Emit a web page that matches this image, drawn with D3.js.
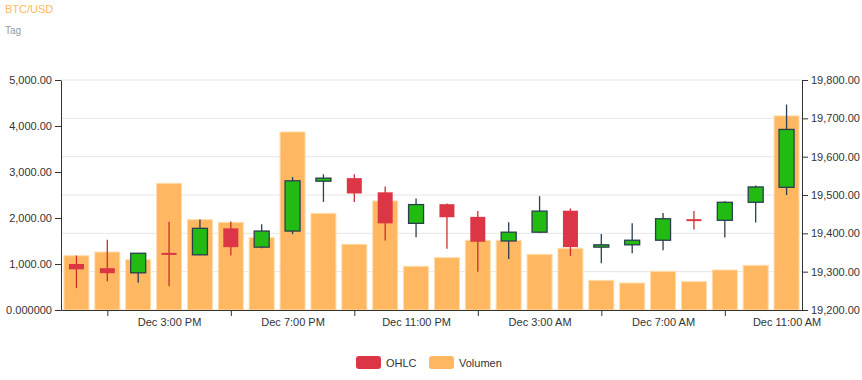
<!DOCTYPE html>
<html>
<head>
<meta charset="utf-8">
<script src="https://cdn.jsdelivr.net/npm/d3@7"></script>
<style>
  body { margin: 0; background: #fff; }
  svg { font-family: "Liberation Sans", Arial, sans-serif; }
  .axis text { fill: #333; font-size: 11px; }
  .axis path, .axis line { stroke: #333; }
</style>
</head>
<body>
<svg id="chart" width="862" height="380"></svg>
<script>
// hourly candles, Dec 1 12:00 PM .. Dec 2 11:00 AM
var hours = ["2020-12-01T12:00", "2020-12-01T13:00", "2020-12-01T14:00", "2020-12-01T15:00",
  "2020-12-01T16:00", "2020-12-01T17:00", "2020-12-01T18:00", "2020-12-01T19:00",
  "2020-12-01T20:00", "2020-12-01T21:00", "2020-12-01T22:00", "2020-12-01T23:00",
  "2020-12-02T00:00", "2020-12-02T01:00", "2020-12-02T02:00", "2020-12-02T03:00",
  "2020-12-02T04:00", "2020-12-02T05:00", "2020-12-02T06:00", "2020-12-02T07:00",
  "2020-12-02T08:00", "2020-12-02T09:00", "2020-12-02T10:00", "2020-12-02T11:00"];
var open  = [19320, 19309, 19297, 19349, 19344, 19413, 19364, 19406, 19536, 19544, 19507, 19426,
  19476, 19443, 19380, 19403, 19459, 19364, 19370, 19382, 19437, 19434, 19481, 19520];
var high  = [19342, 19383, 19348, 19430, 19436, 19431, 19424, 19547, 19554, 19554, 19522, 19491,
  19478, 19458, 19429, 19497, 19465, 19398, 19426, 19453, 19458, 19484, 19525, 19736];
var low   = [19257, 19275, 19271, 19262, 19343, 19342, 19361, 19398, 19482, 19482, 19381, 19390,
  19360, 19300, 19333, 19401, 19341, 19322, 19348, 19356, 19410, 19389, 19428, 19500];
var close = [19306, 19296, 19348, 19345, 19413, 19364, 19406, 19537, 19544, 19504, 19426, 19475,
  19442, 19378, 19403, 19458, 19364, 19370, 19382, 19438, 19434, 19481, 19521, 19671];
var volume = [1180, 1260, 1094, 2754, 1964, 1906, 1572, 3870, 2101, 1428, 2370, 950,
  1138, 1515, 1515, 1210, 1340, 645, 587, 841, 616, 870, 971, 4220];
var volumeTicks = [0, 1000, 2000, 3000, 4000, 5000];
var priceTicks = [19200, 19300, 19400, 19500, 19600, 19700, 19800];
var seriesNames = ["OHLC", "Volumen"];

var width = 862, height = 380;
var margin = {top: 80, right: 60, bottom: 70, left: 61};
var upColor = "#22bb11", downColor = "#dc3545", volColor = "#ffb861";

var parse = d3.timeParse("%Y-%m-%dT%H:%M");
var data = hours.map(function (h, i) {
  return {t: parse(h), o: open[i], h: high[i], l: low[i], c: close[i], v: volume[i]};
});

var svg = d3.select("#chart");

var x = d3.scaleTime()
  .domain([d3.timeMinute.offset(data[0].t, -30), d3.timeMinute.offset(data[data.length - 1].t, 30)])
  .range([margin.left, width - margin.right]);
var yVol = d3.scaleLinear().domain([0, 5000]).range([height - margin.bottom, margin.top]);
var yPrice = d3.scaleLinear().domain([19200, 19800]).range([height - margin.bottom, margin.top]);

var slot = x(d3.timeHour.offset(data[0].t, 1)) - x(data[0].t);
var barWidth = slot * 0.81;
var bodyWidth = 15;

// title
svg.append("text").attr("x", 5).attr("y", 13).attr("fill", "#ffb861")
  .style("font-size", "11px").text("BTC/USD");
svg.append("text").attr("x", 5).attr("y", 34).attr("fill", "#999")
  .style("font-size", "10px").text("Tag");

// gridlines follow the price axis
svg.append("g").selectAll("line").data(priceTicks).join("line")
  .attr("x1", margin.left).attr("x2", width - margin.right)
  .attr("y1", function (d) { return yPrice(d); })
  .attr("y2", function (d) { return yPrice(d); })
  .attr("stroke", "#e6e6e6");

// volume bars
svg.append("g").selectAll("rect").data(data).join("rect")
  .attr("x", function (d) { return x(d.t) - barWidth / 2; })
  .attr("width", barWidth)
  .attr("y", function (d) { return yVol(d.v); })
  .attr("height", function (d) { return yVol(0) - yVol(d.v); })
  .attr("fill", volColor)
  .attr("stroke", "#ffdcab").attr("stroke-width", 1);

// candles
var candles = svg.append("g").selectAll("g").data(data).join("g");
candles.append("line")
  .attr("x1", function (d) { return x(d.t); })
  .attr("x2", function (d) { return x(d.t); })
  .attr("y1", function (d) { return yPrice(d.h); })
  .attr("y2", function (d) { return yPrice(d.l); })
  .attr("stroke", function (d) { return d.c >= d.o ? "#2b3e50" : "#c8312f"; })
  .attr("stroke-width", 1.3);
candles.append("rect")
  .attr("x", function (d) { return x(d.t) - bodyWidth / 2; })
  .attr("width", bodyWidth)
  .attr("y", function (d) { return yPrice(Math.max(d.o, d.c)); })
  .attr("height", function (d) { return Math.max(2, Math.abs(yPrice(d.o) - yPrice(d.c))); })
  .attr("fill", function (d) { return d.c >= d.o ? upColor : downColor; })
  .attr("stroke", function (d) { return d.c >= d.o ? "#2b3e50" : "none"; })
  .attr("stroke-width", 1.3);

// axes
var volFormat = d3.format(",.2f");
svg.append("g").attr("class", "axis")
  .attr("transform", "translate(" + margin.left + ",0)")
  .call(d3.axisLeft(yVol).tickValues(volumeTicks).tickSizeOuter(0)
    .tickFormat(function (d) { return d === 0 ? "0.000000" : volFormat(d); }));
svg.append("g").attr("class", "axis")
  .attr("transform", "translate(" + (width - margin.right) + ",0)")
  .call(d3.axisRight(yPrice).tickValues(priceTicks).tickSizeOuter(0).tickFormat(d3.format(",.2f")));

var tickTimes = data.filter(function (d, i) { return i % 4 === 1; }).map(function (d) { return d.t; });
var labelTimes = data.filter(function (d, i) { return i % 4 === 3; }).map(function (d) { return d.t; });
var xAxisY = height - margin.bottom;
svg.append("g").attr("class", "axis")
  .attr("transform", "translate(0," + xAxisY + ")")
  .call(d3.axisBottom(x).tickValues(tickTimes).tickSizeOuter(0).tickFormat(""));
var labels = svg.append("g").attr("class", "axis")
  .attr("transform", "translate(0," + xAxisY + ")")
  .call(d3.axisBottom(x).tickValues(labelTimes).tickSize(0).tickPadding(8)
    .tickFormat(d3.timeFormat("Dec %-I:%M %p")));
labels.select(".domain").remove();

// legend
var legend = svg.append("g").attr("transform", "translate(356,356)");
var legendColors = [downColor, volColor];
var legendX = [0, 73];
seriesNames.forEach(function (name, i) {
  var item = legend.append("g").attr("transform", "translate(" + legendX[i] + ",0)");
  item.append("rect").attr("width", 25).attr("height", 13).attr("rx", 3)
    .attr("fill", legendColors[i]);
  item.append("text").attr("x", 30).attr("y", 11).attr("fill", "#333")
    .style("font-size", "11px").text(name);
});
</script>
</body>
</html>
